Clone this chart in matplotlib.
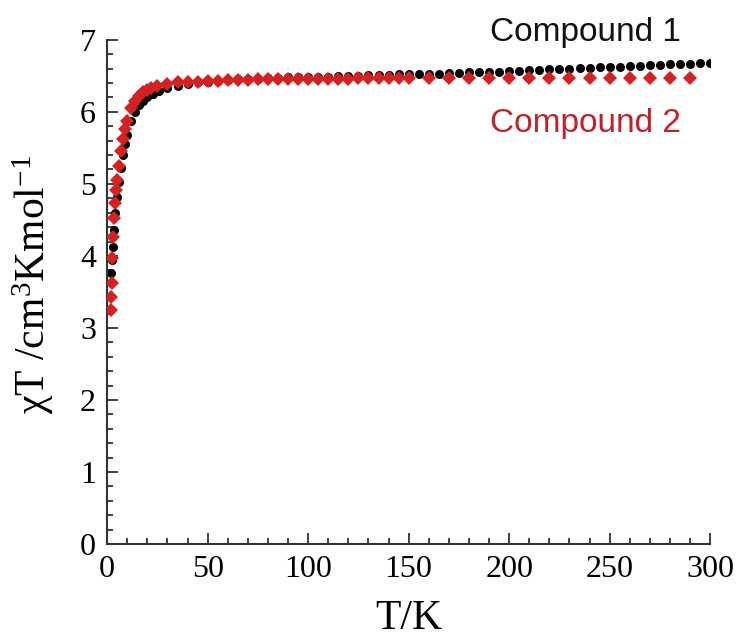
import matplotlib.pyplot as plt
from matplotlib.ticker import MultipleLocator

# Compound 1 (black circles)
T1 = [2, 2.5, 3, 3.5, 4, 5, 6, 7, 8, 9, 10, 12, 14, 16, 18, 20, 23, 26, 30, 35,
      40, 45, 50, 55, 60, 65, 70, 75, 80, 85, 90, 95, 100, 105, 110, 115, 120,
      125, 130, 135, 140, 145, 150, 155, 160, 165, 170, 175, 180, 185, 190, 195,
      200, 205, 210, 215, 220, 225, 230, 235, 240, 245, 250, 255, 260, 265, 270,
      275, 280, 285, 290, 295, 300]
chi1 = [3.76, 3.95, 4.12, 4.36, 4.60, 4.82, 5.02, 5.22, 5.40, 5.55, 5.68, 5.88,
        6.00, 6.09, 6.15, 6.20, 6.25, 6.29, 6.33, 6.36, 6.39, 6.41, 6.42, 6.43,
        6.44, 6.45, 6.46, 6.46, 6.47, 6.47, 6.48, 6.48, 6.49, 6.49, 6.49, 6.50,
        6.50, 6.50, 6.51, 6.51, 6.51, 6.52, 6.52, 6.52, 6.53, 6.53, 6.54, 6.54,
        6.55, 6.55, 6.56, 6.56, 6.57, 6.57, 6.58, 6.58, 6.59, 6.59, 6.60, 6.61,
        6.61, 6.62, 6.62, 6.63, 6.64, 6.64, 6.65, 6.65, 6.66, 6.67, 6.67, 6.68,
        6.68]

# Compound 2 (red diamonds)
T2 = [1.8, 2.0, 2.2, 2.5, 3, 3.5, 4, 4.5, 5, 6, 7, 8, 9, 10, 12, 14, 16, 18, 20,
      22, 25, 30, 35, 40, 45, 50, 55, 60, 65, 70, 75, 80, 85, 90, 95, 100, 105,
      110, 115, 120, 125, 130, 135, 140, 145, 150, 160, 170, 180, 190, 200, 210,
      220, 230, 240, 250, 260, 270, 280, 290]
chi2 = [3.25, 3.43, 3.62, 3.97, 4.26, 4.53, 4.73, 4.92, 5.05, 5.25, 5.45, 5.62,
        5.76, 5.88, 6.05, 6.15, 6.22, 6.27, 6.30, 6.33, 6.36, 6.39, 6.41, 6.42,
        6.42, 6.43, 6.43, 6.44, 6.44, 6.44, 6.45, 6.45, 6.45, 6.45, 6.46, 6.46,
        6.46, 6.46, 6.46, 6.46, 6.47, 6.47, 6.47, 6.47, 6.47, 6.47, 6.47, 6.47,
        6.47, 6.47, 6.47, 6.47, 6.47, 6.47, 6.47, 6.47, 6.47, 6.47, 6.47, 6.47]

serif = 'Liberation Serif'
plt.rcParams['mathtext.fontset'] = 'custom'
plt.rcParams['mathtext.rm'] = serif
plt.rcParams['mathtext.it'] = serif
plt.rcParams['mathtext.default'] = 'regular'

fig = plt.figure(figsize=(7.39, 6.43), dpi=100)
ax = fig.add_axes([0.145, 0.154, 0.816, 0.784])

ax.plot(T1, chi1, 'o', color='black', markersize=6.5, markeredgewidth=0, zorder=2)
ax.plot(T2, chi2, 'D', color='#d42222', markersize=7.5, markeredgewidth=0, zorder=3)

ax.set_xlim(0, 300)
ax.set_ylim(0, 7)
ax.xaxis.set_major_locator(MultipleLocator(50))
ax.xaxis.set_minor_locator(MultipleLocator(10))
ax.yaxis.set_major_locator(MultipleLocator(1))
ax.yaxis.set_minor_locator(MultipleLocator(0.2))

for s in ['top', 'right']:
    ax.spines[s].set_visible(False)
for s in ['left', 'bottom']:
    ax.spines[s].set_color('#333333')
    ax.spines[s].set_linewidth(1.5)

ax.tick_params(which='both', direction='in', color='#333333', width=1.3)
ax.tick_params(which='major', length=8, labelsize=23, pad=8)
ax.tick_params(which='minor', length=4.5)
for lab in ax.get_xticklabels() + ax.get_yticklabels():
    lab.set_fontfamily(serif)

ax.set_xlabel('T/K', fontsize=30, fontfamily=serif, labelpad=11)
ax.set_ylabel('χT /cm$^{3}$Kmol$^{-1}$', fontsize=30, fontfamily=serif)
ax.yaxis.set_label_coords(-0.085, 0.514)

ax.text(0.793, 0.997, 'Compound 1', transform=ax.transAxes, fontsize=24,
        fontfamily='Liberation Sans', color='#111111', ha='center', va='baseline')
ax.text(0.793, 0.817, 'Compound 2', transform=ax.transAxes, fontsize=24,
        fontfamily='Liberation Sans', color='#c4202a', ha='center', va='baseline')

fig.savefig('out.png', dpi=100)
